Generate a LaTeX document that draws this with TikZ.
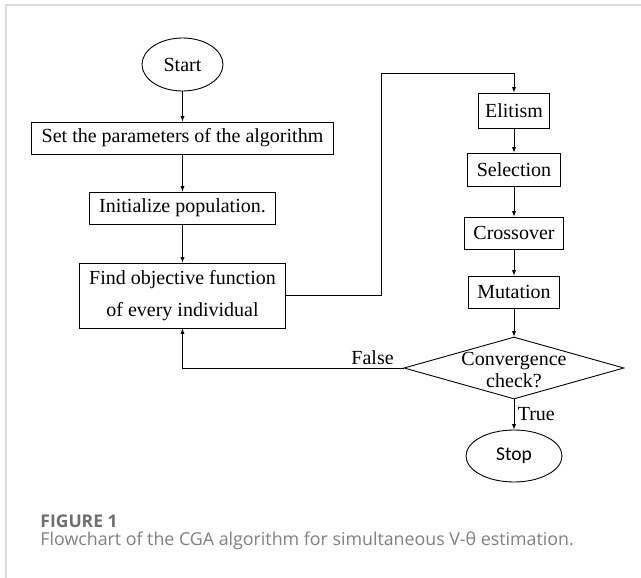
\documentclass[tikz,border=0pt]{standalone}
\usepackage{fontspec}
\setmainfont{Liberation Serif}
\newfontfamily\stopfont{Carlito}
\newfontfamily\capfont{Open Sans}
\usetikzlibrary{shapes.geometric}
\definecolor{framegray}{HTML}{DCDCDC}
\definecolor{capgray}{HTML}{6E6E6E}
\definecolor{textgray}{HTML}{808080}

\begin{document}
\begin{tikzpicture}[x=1pt, y=1pt, >=latex, line width=0.9pt,
        font=\fontsize{20}{24}\selectfont,
        box/.style={draw, rectangle, inner xsep=10pt, minimum height=32pt},
        term/.style={draw, ellipse, inner sep=0pt},
        decision/.style={draw, diamond, minimum width=220pt, minimum height=62pt, inner sep=0pt}]

        \useasboundingbox (0,0) rectangle (641,-578);
        % Cornice della figura
        \draw[framegray, line width=2pt] (6,-578) -- (6,-5) -- (641,-5);

        % Colonna di sinistra
        \node[term, minimum width=81pt, minimum height=53pt] (start) at (182.5,-64.5) {Start};
        \node[box] (param) at (182.5,-138) {Set the parameters of the algorithm};
        \node[box] (init) at (182.5,-208) {Initialize population.};
        \node[box, align=center, minimum height=65pt] (fitness) at (182.5,-295.5) {Find objective function\\[8pt] of every individual};

        % Colonna di destra
        \node[box, inner xsep=7pt, minimum height=35pt] (elit) at (514,-110.5) {Elitism};
        \node[box, inner xsep=9pt, minimum height=33pt] (sel) at (514,-169.5) {Selection};
        \node[box, inner xsep=9pt] (cross) at (514,-233) {Crossover};
        \node[box, inner xsep=9pt] (mut) at (514,-292) {Mutation};
        \node[decision, label={[align=center, font=\fontsize{20}{22}\selectfont, yshift=-2pt]center:Convergence\\check?}] (conv) at (514,-368) {};
        \node[term, minimum width=96pt, minimum height=52pt, font=\stopfont\fontsize{19.5}{22}\selectfont] (stop) at (514,-456) {Stop};
        \coordinate (bend) at (381,-73);

        % Collegamenti
        \draw[->] (start) -- (param);
        \draw[->] (param) -- (init);
        \draw[->] (init) -- (fitness);
        \draw[->] (fitness.east) -| (bend) -| (elit.north);
        \draw[->] (elit) -- (sel);
        \draw[->] (sel) -- (cross);
        \draw[->] (cross) -- (mut);
        \draw[->] (mut) -- (conv.north);
        \draw[->] (conv.west) -| node[pos=0.07, above] {False} (fitness.south);
        \draw[->] (conv.south) -- node[right] {True} (stop.north);

        % Didascalia
        \node[anchor=base west, inner sep=0pt, text=capgray, font=\capfont\bfseries\fontsize{17.5}{20}\selectfont] (figno) at (40,-527) {FIGURE 1};
        \node[anchor=base west, inner sep=0pt, text=textgray, font=\capfont\fontsize{17.8}{20}\selectfont] (caption) at (40,-545) {Flowchart of the CGA algorithm for simultaneous V-θ estimation.};
    \end{tikzpicture}
\end{document}
